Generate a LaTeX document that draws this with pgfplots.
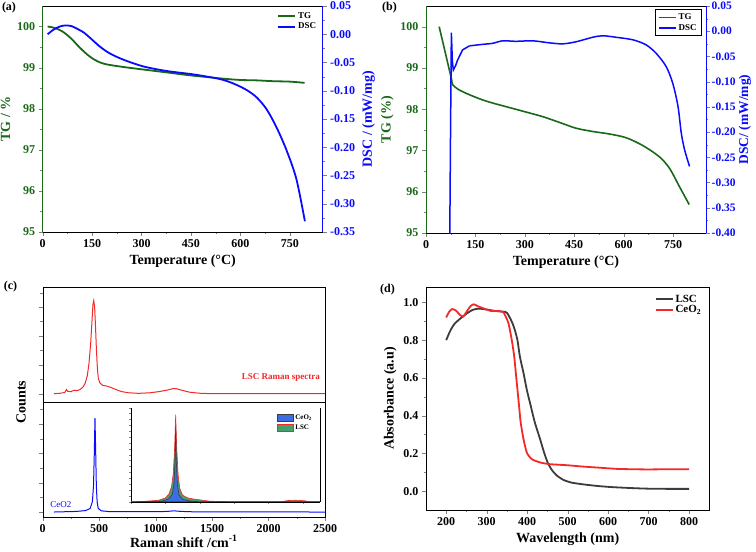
\documentclass[border=0pt]{standalone}
\usepackage{fontspec}
\setmainfont{Liberation Serif}
\usepackage{pgfplots}
\pgfplotsset{compat=1.18}
\definecolor{tgreen}{RGB}{25,105,25}
\definecolor{dblue}{RGB}{10,10,255}
\definecolor{lred}{RGB}{245,40,40}
\definecolor{lscgray}{RGB}{60,60,60}
\definecolor{fillgreen}{RGB}{70,160,110}
\definecolor{fillblue}{RGB}{60,110,225}
\pgfplotsset{
  myax/.style={scale only axis, anchor=south west, tick align=outside,
    major tick length=4pt, minor tick length=2.2pt,
    /pgf/number format/assume math mode=true,
    /pgf/number format/set thousands separator={},
    tick label style={font=\fontsize{12}{12}\selectfont\bfseries},
    label style={font=\fontsize{14}{14}\selectfont\bfseries},
    axis line style={-}, every outer x axis line/.append style={-},
    every outer y axis line/.append style={-}},
}
\begin{document}
\begin{tikzpicture}
\useasboundingbox (0,0) rectangle (756pt,-552pt);
% ---------------- (a)
\begin{axis}[myax, at={(42.7pt,-232pt)}, width=280pt, height=226pt,
  xmin=0, xmax=850, ymin=95, ymax=100.5,
  xtick={0,150,...,750}, ytick={95,96,...,100},
  minor x tick num=1, minor y tick num=1,
  axis x line*=box, axis y line*=left, xtick pos=bottom,
  x axis line style={-}, y axis line style={-,draw=tgreen},
  yticklabel style={text=tgreen}, ylabel style={text=tgreen},
  xlabel={Temperature (°C)}, ylabel={TG / \%}]
\addplot[tgreen, line width=1.8pt, smooth, tension=0.5] coordinates {
(15,100.0)(30,99.98)(45,99.94)(60,99.88)(75,99.79)(90,99.68)(105,99.55)(120,99.43)
(135,99.32)(150,99.23)(165,99.16)(180,99.11)(200,99.07)(250,99.01)(300,98.96)
(350,98.91)(400,98.86)(450,98.81)(500,98.77)(550,98.73)(600,98.70)(650,98.69)
(700,98.67)(750,98.66)(795,98.63)};
\end{axis}
\begin{axis}[myax, at={(42.7pt,-232pt)}, width=280pt, height=226pt,
  xmin=0, xmax=850, ymin=-0.35, ymax=0.05,
  axis x line=none, axis y line*=right, yticklabel pos=right, ylabel near ticks,
  ytick={-0.35,-0.3,-0.25,-0.2,-0.15,-0.1,-0.05,0,0.05}, minor y tick num=1,
  y axis line style={-,draw=dblue},
  yticklabel style={text=dblue, /pgf/number format/.cd, fixed, fixed zerofill, precision=2},
  ylabel style={text=dblue, font=\fontsize{14}{14}\selectfont\bfseries}, ylabel={DSC / (mW/mg)},
  legend style={at={(0.995,0.99)}, anchor=north east, draw=none, fill=none,
    font=\fontsize{9}{9}\selectfont\bfseries, row sep=-1pt},
  legend cell align=left]
\addlegendimage{tgreen, line width=1.8pt}
\addlegendentry{TG}
\addplot[dblue, line width=1.8pt, smooth, tension=0.5] coordinates {
(15,0.0)(30,0.007)(45,0.012)(60,0.015)(75,0.0155)(90,0.014)(110,0.008)(125,0.003)
(145,-0.007)(174,-0.022)(204,-0.034)(245,-0.045)(306,-0.057)(376,-0.065)
(457,-0.071)(528,-0.078)(560,-0.083)(590,-0.090)(620,-0.099)(650,-0.112)(680,-0.133)
(710,-0.165)(740,-0.205)(770,-0.256)(796,-0.331)};
\addlegendentry{DSC}
\end{axis}
% ---------------- (b)
\begin{axis}[myax, at={(426pt,-233pt)}, width=280pt, height=227pt,
  xmin=0, xmax=850, ymin=95, ymax=100.5,
  xtick={0,150,...,750}, ytick={95,96,...,100},
  minor x tick num=1, minor y tick num=1,
  axis x line*=box, axis y line*=left, xtick pos=bottom,
  x axis line style={-}, y axis line style={-,draw=tgreen},
  yticklabel style={text=tgreen}, ylabel style={text=tgreen},
  xlabel={Temperature (°C)}, ylabel={TG (\%)},
  legend style={at={(0.985,0.985)}, anchor=north east, draw=black, fill=none,
    font=\fontsize{9}{9}\selectfont\bfseries, row sep=-1pt},
  legend cell align=left]
\addplot[tgreen, line width=1.6pt] coordinates {(40,100.0)(78,98.71)};
\addlegendentry{TG}
\addplot[tgreen, line width=1.6pt, smooth, tension=0.5, forget plot] coordinates {
(78,98.71)(81,98.59)(100,98.47)(132,98.35)(170,98.23)(202,98.15)(253,98.04)
(304,97.93)(354,97.82)(405,97.68)(455,97.54)(506,97.46)(556,97.40)(607,97.31)
(658,97.12)(708,96.85)(739,96.57)(769,96.13)(799,95.69)};
\addlegendimage{dblue, line width=1.6pt}
\addlegendentry{DSC}
\end{axis}
\begin{axis}[myax, at={(426pt,-233pt)}, width=280pt, height=227pt,
  xmin=0, xmax=850, ymin=-0.40, ymax=0.05,
  axis x line=none, axis y line*=right, yticklabel pos=right, ylabel near ticks,
  ytick={-0.4,-0.35,-0.3,-0.25,-0.2,-0.15,-0.1,-0.05,0,0.05}, minor y tick num=1,
  y axis line style={-,draw=dblue},
  yticklabel style={text=dblue, font=\fontsize{11.5}{11.5}\selectfont\bfseries, inner xsep=1.5pt, /pgf/number format/.cd, fixed, fixed zerofill, precision=2},
  ylabel style={text=dblue, font=\fontsize{13.5}{13.5}\selectfont\bfseries}, ylabel={DSC/ (mW/mg)},
  ylabel shift=-2pt]
\addplot[dblue, line width=1.5pt] coordinates {
(72,-0.42)(74.5,-0.20)(77,-0.003)(80,-0.06)(83,-0.077)(90,-0.068)(96,-0.057)(111,-0.037)
(132,-0.029)};
\addplot[dblue, line width=1.5pt, smooth, tension=0.5] coordinates {
(132,-0.029)(172,-0.026)(202,-0.024)(233,-0.019)(273,-0.020)(324,-0.019)(374,-0.023)
(415,-0.025)(455,-0.021)(506,-0.012)(537,-0.009)(577,-0.012)(628,-0.017)(668,-0.027)
(699,-0.044)(729,-0.070)(749,-0.103)(765,-0.149)(775,-0.202)(785,-0.235)(800,-0.268)};
\end{axis}
% ---------------- (c) upper
\begin{axis}[myax, at={(42.7pt,-401.7pt)}, width=282.3pt, height=114.4pt,
  xmin=0, xmax=2500, ymin=-0.28, ymax=3.69,
  xtick=\empty, ytick={0,1,2,3}, minor ytick={0.5,1.5,2.5,3.5},
  yticklabels={}, ytick pos=left]
\addplot[lred, line width=1pt] coordinates {
(100,0)(150,0.01)(195,0.04)(210,0.14)(222,0.08)(250,0.07)(280,0.12)(300,0.10)(330,0.14)
(355,0.22)(375,0.35)(395,0.62)(410,1.05)(425,1.75)(437,2.55)(445,3.1)(452,3.23)
(460,3.0)(468,2.3)(476,1.5)(484,0.9)(492,0.55)(505,0.38)(530,0.29)(570,0.26)
(600,0.22)(650,0.14)(700,0.07)(760,0.03)(850,0.01)(950,0.03)(1030,0.07)(1100,0.12)
(1150,0.17)(1185,0.17)(1230,0.12)(1300,0.05)(1400,0.01)(1500,0)(2500,0)};
\node[text=lred, font=\fontsize{9}{9}\selectfont\bfseries] at (axis cs:2110,0.55) {LSC Raman spectra};
\end{axis}
% ---------------- (c) lower
\begin{axis}[myax, at={(42.7pt,-517pt)}, width=282.3pt, height=115.3pt,
  xmin=0, xmax=2500, ymin=-0.17, ymax=3.76,
  xtick={0,500,...,2500}, minor x tick num=1, xtick pos=bottom,
  ytick={0,1,2,3}, minor ytick={0.5,1.5,2.5,3.5},
  yticklabels={}, ytick pos=left,
  xlabel style={yshift=4pt},
  xlabel={Raman shift /cm\textsuperscript{-1}}]
\addplot[dblue, line width=1pt] coordinates {
(100,0)(200,0.01)(300,0.02)(380,0.05)(420,0.12)(440,0.35)(450,0.9)(457,2.0)(463,3.2)
(469,2.1)(475,0.9)(482,0.35)(492,0.12)(520,0.04)(600,0.01)(1000,0.01)(1100,0.02)
(1160,0.04)(1230,0.02)(1350,0.005)(2500,0)};
\node[text=dblue, font=\fontsize{9}{9}\selectfont] at (axis cs:162,0.27) {CeO2};
\end{axis}
\node[rotate=90, font=\fontsize{14}{14}\selectfont\bfseries] at (21pt,-402pt) {Counts};
% ---------------- inset
\begin{axis}[scale only axis, anchor=south west, at={(131pt,-501.7pt)}, width=189pt, height=94pt,
  xmin=0, xmax=5.5, ymin=0, ymax=1.0,
  axis x line*=bottom, axis y line*=box, axis line style={-},
  tick align=outside, major tick length=2pt,
  xtick={0,1,...,5}, xticklabels={}, ytick={0,0.0625,...,1.0}, yticklabels={}, ytick pos=left,
  area legend, legend cell align=left, reverse legend,
  legend style={at={(0.985,0.97)}, anchor=north east, draw=none, fill=none,
    font=\fontsize{7}{7}\selectfont\bfseries, row sep=0pt},
  legend image code/.code={\draw[#1] (0cm,-0.11cm) rectangle (0.55cm,0.14cm);}]
\addplot[fill=fillgreen, draw=lred, line width=0.6pt] coordinates {
(0,0)(0.4,0.004)(0.8,0.015)(1.0,0.04)(1.1,0.08)(1.18,0.16)(1.23,0.30)(1.27,0.58)(1.3,0.925)
(1.33,0.58)(1.37,0.29)(1.42,0.14)(1.5,0.07)(1.65,0.04)(1.8,0.03)(2.0,0.02)(2.3,0.005)
(3,0)(4.4,0)(4.55,0.012)(4.8,0.016)(5.05,0.01)(5.2,0)(5.5,0)} \closedcycle;
\addplot[fill=fillblue, draw=lscgray, line width=0.6pt] coordinates {
(0,0)(0.9,0.005)(1.1,0.03)(1.2,0.08)(1.25,0.18)(1.28,0.42)(1.3,0.79)(1.32,0.42)
(1.35,0.18)(1.4,0.07)(1.5,0.025)(1.7,0.008)(2,0)(5.5,0)} \closedcycle;
\legend{LSC,CeO\textsubscript{2}}
\end{axis}
% ---------------- (d)
\begin{axis}[myax, at={(426pt,-510pt)}, width=283.3pt, height=222.7pt,
  xmin=150, xmax=850, ymin=-0.1, ymax=1.08,
  xtick={200,300,...,800}, ytick={0,0.2,...,1.0},
  minor x tick num=1, minor y tick num=1, xtick pos=bottom, ytick pos=left,
  yticklabel style={/pgf/number format/.cd, fixed, fixed zerofill, precision=1},
  xlabel={Wavelength (nm)}, ylabel={Absorbance (a.u)},
  legend style={at={(0.99,0.985)}, anchor=north east, draw=none, fill=none,
    font=\fontsize{11}{11}\selectfont\bfseries, row sep=-2pt},
  legend cell align=left]
\addplot[lscgray, line width=1.8pt, smooth, tension=0.4] coordinates {
(200,0.80)(210,0.85)(220,0.885)(235,0.915)(250,0.94)(265,0.96)(280,0.967)(300,0.962)
(320,0.955)(335,0.952)(345,0.95)(350,0.945)(357,0.92)(364,0.888)(370,0.85)(376,0.80)
(382,0.713)(391,0.625)(399,0.538)(409,0.45)(419,0.363)(432,0.275)(441,0.21)(450,0.155)
(460,0.115)(472,0.085)(489,0.06)(510,0.045)(538,0.036)(575,0.027)(612,0.021)
(660,0.016)(700,0.013)(750,0.012)(800,0.012)};
\addlegendentry{LSC}
\addplot[lred, line width=1.8pt, smooth, tension=0.4] coordinates {
(200,0.92)(207,0.95)(215,0.965)(225,0.955)(233,0.935)(242,0.925)(250,0.95)(260,0.98)
(268,0.99)(278,0.98)(290,0.97)(310,0.955)(325,0.955)(335,0.952)(341,0.949)(348,0.92)
(354,0.888)(362,0.80)(368,0.713)(372,0.625)(376,0.538)(380,0.45)(384,0.363)(391,0.275)
(399,0.205)(411,0.17)(432,0.152)(456,0.143)(500,0.137)(538,0.13)(580,0.124)(621,0.118)
(660,0.116)(700,0.115)(750,0.116)(800,0.116)};
\addlegendentry{CeO\textsubscript{2}}
\end{axis}
% panel labels
\node[font=\fontsize{12}{12}\selectfont\bfseries] at (9pt,-8pt) {(a)};
\node[font=\fontsize{12}{12}\selectfont\bfseries] at (389.5pt,-8pt) {(b)};
\node[font=\fontsize{12}{12}\selectfont\bfseries] at (10.5pt,-287pt) {(c)};
\node[font=\fontsize{12}{12}\selectfont\bfseries] at (387.5pt,-290pt) {(d)};
\end{tikzpicture}
\end{document}
